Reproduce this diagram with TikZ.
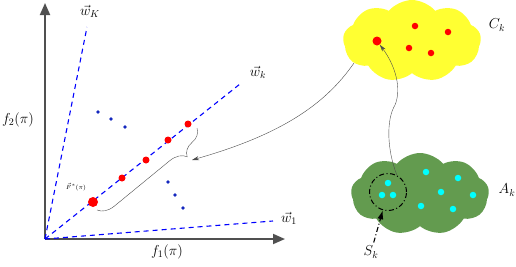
\documentclass[tikz,border=0pt]{standalone}
\usepackage{amsmath}
\usepackage{tikz}
\usetikzlibrary{shapes.symbols, arrows.meta, decorations.pathreplacing}
\definecolor{leafgreen}{RGB}{99,155,79}
\definecolor{axisgray}{RGB}{80,80,80}
\definecolor{sunyellow}{RGB}{255,255,50}
\definecolor{dotcyan}{RGB}{0,255,255}
\definecolor{dotred}{RGB}{255,0,0}
\definecolor{dotblue}{RGB}{20,40,190}

\begin{document}
\begin{tikzpicture}[x=1pt, y=-1pt, font=\Large]
    % Styles
    \tikzstyle{axis} = [line width=1.8pt, axisgray, -{Triangle[length=12pt, width=10pt]}]
    \tikzstyle{weight} = [blue, line width=1.1pt, dash pattern=on 5pt off 4pt]
    \tikzstyle{bigdot} = [circle, fill=dotred, inner sep=0pt, minimum size=10pt]
    \tikzstyle{reddot} = [circle, fill=dotred, inner sep=0pt, minimum size=7pt]
    \tikzstyle{bluedot} = [circle, fill=dotblue, inner sep=0pt, minimum size=3.6pt]
    \tikzstyle{cyandot} = [circle, fill=dotcyan, inner sep=0pt, minimum size=6.5pt]
    \tikzstyle{blob} = [cloud, cloud puffs=9, cloud puff arc=100, aspect=1.65, inner sep=0pt, minimum width=138pt, minimum height=82pt]
    \tikzstyle{link} = [thin, black!70, -{Stealth[length=7pt, width=4pt]}]

    \useasboundingbox (0,0) rectangle (516,266);

    % Axes
    \coordinate (o) at (45,239);
    \coordinate (xtip) at (285,239);
    \coordinate (ytip) at (45,3);
    \draw [axis] (o) -- (xtip);
    \draw [axis] (o) -- (ytip);
    \node (f1) at (167,252) {$f_1(\pi)$};
    \node (f2) at (18,120) {$f_2(\pi)$};

    % Weight directions
    \coordinate (w1end) at (273,221);
    \coordinate (wkend) at (240,84);
    \coordinate (wKend) at (87,27);
    \draw [weight] (o) -- (w1end);
    \draw [weight] (o) -- (wkend);
    \draw [weight] (o) -- (wKend);
    \node (w1) at (289,218) {$\vec{w}_1$};
    \node (wk) at (258,72) {$\vec{w}_k$};
    \node (wK) at (90,11) {$\vec{w}_K$};

    % Points on w_k
    \node [bigdot] (p0) at (93,202) {};
    \node [reddot] (p1) at (122,178) {};
    \node [reddot] (p2) at (146,160) {};
    \node [reddot] (p3) at (168,140) {};
    \node [reddot] (p4) at (188,124) {};
    \node [font=\fontsize{6}{7}\selectfont] (fstar) at (76,187) {$\vec{F}^*(\pi)$};

    % Other points
    \node [bluedot] (q1) at (98,112) {};
    \node [bluedot] (q2) at (111,119) {};
    \node [bluedot] (q3) at (125,127) {};
    \node [bluedot] (q4) at (168,182) {};
    \node [bluedot] (q5) at (175,195) {};
    \node [bluedot] (q6) at (183,208) {};

    % Brace
    \draw [black!70, decorate, decoration={brace, amplitude=16pt, aspect=0.2}] (197,128) -- (97,210);
    \coordinate (btip) at (192,160);

    % Cloud C_k
    \node [blob, fill=sunyellow] (ck) at (412,41) {};
    \node [bigdot, minimum size=9pt] (c0) at (377,41) {};
    \node [reddot, minimum size=6.5pt] (c1) at (415,26) {};
    \node [reddot, minimum size=6.5pt] (c2) at (448,32) {};
    \node [reddot, minimum size=6.5pt] (c3) at (409,48) {};
    \node [reddot, minimum size=6.5pt] (c4) at (431,53) {};
    \node (cklabel) at (497,25) {$C_k$};

    % Cloud A_k
    \node [blob, fill=leafgreen] (ak) at (420,194) {};
    \node [cyandot] (a1) at (426,172) {};
    \node [cyandot] (a2) at (458,178) {};
    \node [cyandot] (a3) at (441,192) {};
    \node [cyandot] (a4) at (473,195) {};
    \node [cyandot] (a5) at (421,206) {};
    \node [cyandot] (a6) at (453,209) {};
    \node [cyandot] (s1) at (388,183) {};
    \node [cyandot] (s2) at (382,195) {};
    \node [cyandot] (s3) at (393,195) {};
    \node [circle, draw, line width=1pt, dash pattern=on 5pt off 2.5pt on 1pt off 2.5pt, minimum width=37pt, inner sep=0pt] (sk) at (388,192) {};
    \node (aklabel) at (507,190) {$A_k$};
    \node (sklabel) at (371,252) {$S_k$};

    % Arrows
    \coordinate (ckout) at (354,63);
    \draw [link] (ckout) .. controls (325,105) and (280,135) .. (btip);
    \draw [link] (sk.62) .. controls (387,150) and (386,120) .. (395,105) .. controls (402,88) and (395,65) .. (c0);
    \draw [line width=1.1pt, dash pattern=on 5pt off 2.5pt on 1pt off 2.5pt, -{Latex[length=9pt, width=6pt]}] (sklabel) -- (sk);
\end{tikzpicture}
\end{document}
